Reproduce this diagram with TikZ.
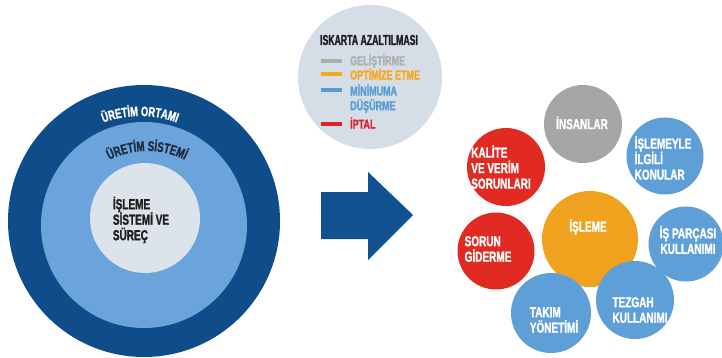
\documentclass[tikz,border=0pt]{standalone}
\usepackage{fontspec}
\setmainfont{Liberation Sans}
\newfontfamily\cfb{Liberation Sans Bold}[FakeStretch=0.69, FakeBold=1.3]
\newfontfamily\cfa{Liberation Sans Bold}[FakeStretch=0.6, FakeBold=1.3]
\usetikzlibrary{decorations.text}
\definecolor{darkring}{HTML}{0F4C8A}
\definecolor{midring}{HTML}{6BA4DA}
\definecolor{innerdisc}{HTML}{DCE3EA}
\definecolor{legendbg}{HTML}{D5DEE7}
\definecolor{cblue}{HTML}{5E9FD8}
\definecolor{cgrey}{HTML}{A6A6A6}
\definecolor{corange}{HTML}{F0A21E}
\definecolor{cred}{HTML}{E12A22}
\definecolor{arrowblue}{HTML}{0F528F}
\definecolor{lgrey}{HTML}{ADAEB0}
\definecolor{lorange}{HTML}{F5A81C}
\definecolor{lblue}{HTML}{5A9BD6}
\definecolor{lred}{HTML}{D8262B}
\definecolor{darktext}{HTML}{1E1E1E}
\definecolor{navytext}{HTML}{1D2D44}
\begin{document}
\begin{tikzpicture}[x=1pt,y=-1pt,
  disc/.style={circle, inner sep=0pt, draw=none},
  ctext/.style={font=\cfb\fontsize{14.5}{15.5}\selectfont, text=white, align=left, inner sep=0pt},
  ltext/.style={font=\cfb\fontsize{13}{13}\selectfont, anchor=west, inner sep=0pt},
  swatch/.style={rectangle, inner sep=0pt, minimum width=21pt, minimum height=3.5pt, draw=none}
]
\useasboundingbox (0,0) rectangle (722,358);
\fill[white] (0,0) rectangle (722,358);

% left concentric circles
\node[disc, fill=darkring, minimum size=272pt] (outer) at (144,221) {};
\node[disc, fill=midring, minimum size=206pt] (middle) at (144,225) {};
\node[disc, fill=innerdisc, minimum size=110pt] (inner) at (145,218) {};
\node[ctext, text=darktext] (innertxt) at (141,220) {İŞLEME\\SİSTEMİ VE\\SÜREÇ};

\path[decorate, decoration={text along path, text align=center,
  text={|\cfb\fontsize{13.5}{13.5}\selectfont\color{white}|ÜRETİM ORTAMI}}]
  ([shift={(215:105)}]140,221) arc[start angle=215, end angle=325, radius=105];
\path[decorate, decoration={text along path, text align=center,
  text={|\cfb\fontsize{14}{14}\selectfont\color{navytext}|ÜRETİM SİSTEMİ}}]
  ([shift={(205:85)}]147,236) arc[start angle=205, end angle=335, radius=85];

% arrow
\fill[arrowblue] (321,192) -- (368,192) -- (368,172) -- (413,215) -- (368,260) -- (368,239) -- (321,239) -- cycle;

% legend
\node[disc, fill=legendbg, minimum size=144pt] (legend) at (370,77) {};
\node[font=\cfa\fontsize{14.5}{14.5}\selectfont, text=darktext, inner sep=0pt] (ltitle) at (369,40) {ISKARTA AZALTILMASI};
\node[swatch, fill=lgrey] (sw1) at (331,61) {};
\node[swatch, fill=lorange] (sw2) at (331,74) {};
\node[swatch, fill=lblue] (sw3) at (331,90) {};
\node[swatch, fill=lred] (sw4) at (331,124) {};
\node[ltext, text=lgrey] (lt1) at (350,61) {GELİŞTİRME};
\node[ltext, text=lorange] (lt2) at (350,74) {OPTİMİZE ETME};
\node[ltext, text=lblue] (lt3) at (350,90) {MİNİMUMA};
\node[ltext, text=lblue] (lt4) at (350,106) {DÜŞÜRME};
\node[ltext, text=lred] (lt5) at (350,123) {İPTAL};

% right cluster
\node[disc, fill=cgrey, minimum size=78pt] (insan) at (583,124) {};
\node[disc, fill=cblue, minimum size=77pt] (konu) at (665,156) {};
\node[disc, fill=cred, minimum size=78pt] (kalite) at (506,167) {};
\node[disc, fill=corange, minimum size=96pt] (isleme) at (590,239) {};
\node[disc, fill=cred, minimum size=77pt] (sorun) at (496,251) {};
\node[disc, fill=cblue, minimum size=75pt] (parca) at (686,244) {};
\node[disc, fill=cblue, minimum size=78pt] (tezgah) at (635,300) {};
\node[disc, fill=cblue, minimum size=80pt] (takim) at (551,313) {};

\node[ctext] (insantxt) at (582,123) {İNSANLAR};
\node[ctext] (konutxt) at (663,158) {İŞLEMEYLE\\İLGİLİ\\KONULAR};
\node[ctext] (kalitetxt) at (501,167) {KALİTE\\VE VERİM\\SORUNLARI};
\node[ctext] (islemetxt) at (588,227) {İŞLEME};
\node[ctext] (soruntxt) at (488,249) {SORUN\\GİDERME};
\node[ctext, align=center] (parcatxt) at (688,240) {İŞ PARÇASI\\KULLANIMI};
\node[ctext] (tezgahtxt) at (640,310) {TEZGAH\\KULLANIMI};
\node[ctext] (takimtxt) at (554,320) {TAKIM\\YÖNETİMİ};
\end{tikzpicture}
\end{document}
